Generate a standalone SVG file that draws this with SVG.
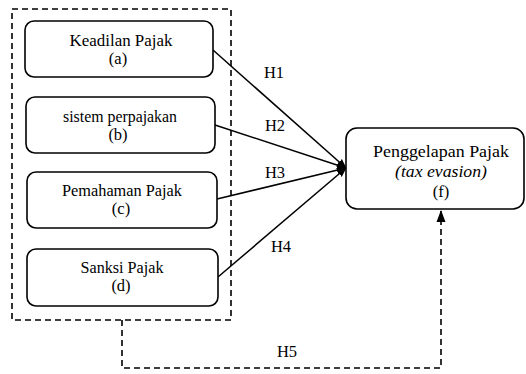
<svg xmlns="http://www.w3.org/2000/svg" width="526" height="374" viewBox="0 0 526 374">
<style>
.box{fill:#fff;stroke:#000;stroke-width:1.6}
.dash{fill:none;stroke:#000;stroke-width:1.6;stroke-dasharray:6,4}
.ln{fill:none;stroke:#000;stroke-width:1.5}
text{font-family:"Liberation Serif","Times New Roman",serif;font-size:16.5px;fill:#000;text-anchor:middle}
.it{font-style:italic}
</style>
<defs>
<marker id="ah" markerWidth="10" markerHeight="10" refX="9" refY="5" orient="auto" markerUnits="userSpaceOnUse">
<path d="M0,1 L10,5 L0,9 Z" fill="#000"/>
</marker>
<marker id="ah2" markerWidth="12" markerHeight="12" refX="11" refY="6" orient="auto" markerUnits="userSpaceOnUse">
<path d="M0,1.5 L12,6 L0,10.5 Z" fill="#000"/>
</marker>
</defs>
<rect id="group" class="dash" x="12" y="9" width="219" height="311"/>
<g id="connectors">
<line class="ln" x1="213" y1="50" x2="346" y2="168" marker-end="url(#ah)"/>
<line class="ln" x1="215" y1="125" x2="346" y2="168" marker-end="url(#ah)"/>
<line class="ln" x1="217" y1="199" x2="346" y2="168" marker-end="url(#ah)"/>
<line class="ln" x1="218" y1="277" x2="346" y2="168" marker-end="url(#ah)"/>
<path class="dash" d="M122,320 V368 H441 V211" marker-end="url(#ah2)"/>
<text x="274" y="78">H1</text>
<text x="275" y="131">H2</text>
<text x="275" y="178">H3</text>
<text x="281" y="252">H4</text>
<text x="287" y="357">H5</text>
</g>
<g id="a">
<rect class="box" x="25" y="21" width="188" height="56" rx="9"/>
<text x="121" y="46" textLength="103" lengthAdjust="spacingAndGlyphs">Keadilan Pajak</text>
<text x="118" y="64">(a)</text>
</g>
<g id="b">
<rect class="box" x="26" y="97" width="189" height="56" rx="9"/>
<text x="120" y="122" textLength="114" lengthAdjust="spacingAndGlyphs">sistem perpajakan</text>
<text x="118" y="140">(b)</text>
</g>
<g id="c">
<rect class="box" x="27" y="172" width="190" height="56" rx="9"/>
<text x="122" y="196" textLength="120" lengthAdjust="spacingAndGlyphs">Pemahaman Pajak</text>
<text x="121" y="214">(c)</text>
</g>
<g id="d">
<rect class="box" x="27" y="249" width="191" height="57" rx="9"/>
<text x="122" y="273" textLength="83" lengthAdjust="spacingAndGlyphs">Sanksi Pajak</text>
<text x="121" y="291">(d)</text>
</g>
<g id="f">
<rect class="box" x="346" y="128" width="178" height="81" rx="11"/>
<text x="441" y="157" textLength="136" lengthAdjust="spacingAndGlyphs">Penggelapan Pajak</text>
<text class="it" x="441" y="177" textLength="92" lengthAdjust="spacingAndGlyphs">(tax evasion)</text>
<text x="441" y="197">(f)</text>
</g>
</svg>
